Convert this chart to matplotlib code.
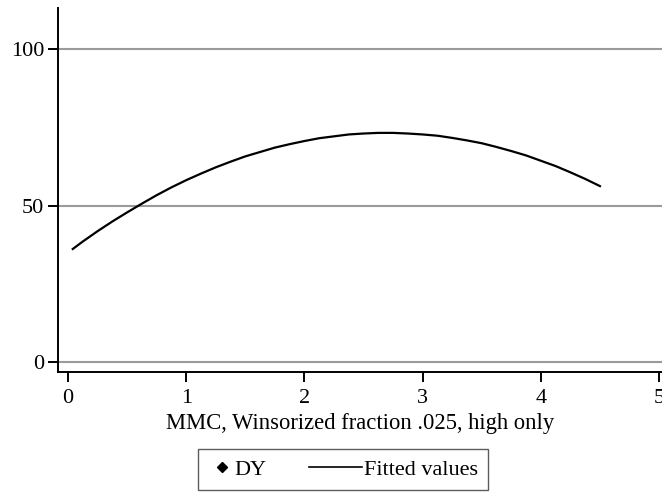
import matplotlib
matplotlib.use("Agg")
import matplotlib.pyplot as plt
from matplotlib.lines import Line2D
from matplotlib.legend_handler import HandlerLine2D

# values
mmc = [0.04, 0.125, 0.25, 0.375, 0.5, 0.625, 0.75, 0.875, 1.0, 1.125, 1.25,
       1.375, 1.5, 1.625, 1.75, 1.875, 2.0, 2.125, 2.25, 2.375, 2.5, 2.625,
       2.75, 2.875, 3.0, 3.125, 3.25, 3.375, 3.5, 3.625, 3.75, 3.875, 4.0,
       4.125, 4.25, 4.375, 4.5]
fitted = [36.1, 38.5, 41.8, 44.9, 47.8, 50.6, 53.3, 55.8, 58.1, 60.2, 62.2,
          64.0, 65.7, 67.1, 68.5, 69.6, 70.6, 71.5, 72.1, 72.7, 73.0, 73.2,
          73.2, 73.0, 72.7, 72.3, 71.6, 70.8, 69.9, 68.7, 67.4, 66.0, 64.3,
          62.6, 60.6, 58.5, 56.2]
dy_x = []
dy_y = []
x_ticks = [0, 1, 2, 3, 4, 5]
y_ticks = [0, 50, 100]


class RightMarker(HandlerLine2D):
    # put the diamond close to its label
    def get_xdata(self, legend, xdescent, ydescent, width, height, fontsize):
        x = -xdescent + width - 0.45 * fontsize
        return [x, x], [x]


class LongLine(HandlerLine2D):
    # line sample reaches further left than the handle box
    def get_xdata(self, legend, xdescent, ydescent, width, height, fontsize):
        end = -xdescent + width
        return [end - 2.4 * fontsize, end], [end]


plt.rcParams["font.family"] = ["Liberation Serif", "DejaVu Serif"]
plt.rcParams["font.size"] = 16

fig = plt.figure(figsize=(6.62, 4.92), dpi=100)
ax = fig.add_axes([0.0876, 0.2439, 0.9124, 0.7398])

for v in y_ticks:
    ax.axhline(v, color="#9a9a9a", linewidth=1.5, zorder=1)

ax.scatter(dy_x, dy_y, marker="D", color="black", s=20, label="DY")
ax.plot(mmc, fitted, color="black", linewidth=1.6, label="Fitted values", zorder=3)

ax.set_xlim(-0.085, 5.025)
ax.set_ylim(-3.2, 113.1)
ax.set_xticks(x_ticks)
ax.set_yticks(y_ticks)
ax.set_xlabel("MMC, Winsorized fraction .025, high only", labelpad=4, fontsize=16.3)

for side in ("top", "right"):
    ax.spines[side].set_visible(False)
for side in ("left", "bottom"):
    ax.spines[side].set_linewidth(1.4)
    ax.spines[side].set_color("black")
ax.tick_params(axis="both", direction="out", length=7, width=1.4, colors="black")
ax.tick_params(axis="x", pad=5)
ax.tick_params(axis="y", pad=3)

dy_handle = Line2D([], [], marker="D", color="black", linestyle="none", markersize=5)
fit_handle = Line2D([], [], color="black", linewidth=1.2)
leg = fig.legend([dy_handle, fit_handle], ["DY", "Fitted values"], loc="lower center",
                 bbox_to_anchor=(0.518, 0.004), ncol=2, frameon=True, fancybox=False,
                 handlelength=1.1, handletextpad=0.1, columnspacing=3.2,
                 borderpad=0.45, borderaxespad=0, numpoints=1, fontsize=16,
                 handler_map={dy_handle: RightMarker(numpoints=1),
                              fit_handle: LongLine(numpoints=1)})
leg.get_frame().set_edgecolor("#333333")
leg.get_frame().set_linewidth(1.0)

fig.savefig("out.png", dpi=100)
